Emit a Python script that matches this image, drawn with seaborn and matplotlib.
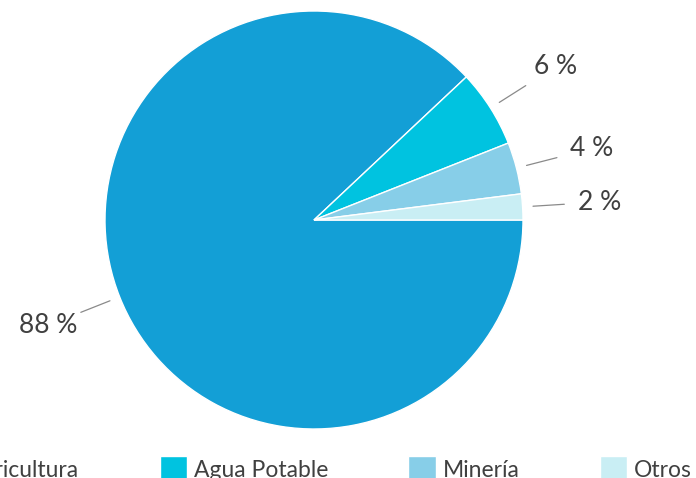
import numpy as np
import seaborn as sns
import matplotlib.pyplot as plt

# datos: uso del agua por sector
sectores = ['Agricultura', 'Agua Potable', 'Minería', 'Otros']
porcentajes = [88, 6, 4, 2]
colores = ['#139FD6', '#00C3E0', '#87CEE8', '#C9EEF4']

sns.set_theme(style='white')
plt.rcParams['font.family'] = ['Lato', 'DejaVu Sans']

fig = plt.figure(figsize=(6.96, 4.78), dpi=100)
ax = fig.add_axes([0, 0, 1, 1])

cx, cy, r = 314, 258, 209
wedges, _ = ax.pie(porcentajes, colors=colores, startangle=0,
                   counterclock=False, center=(cx, cy), radius=r,
                   wedgeprops={'edgecolor': 'white', 'linewidth': 1})

# pie() cambia los limites, los reponemos en pixeles
ax.set_xlim(0, 696)
ax.set_ylim(0, 478)
ax.set_aspect('equal')
ax.axis('off')

# etiquetas con lineas guia
for w, p in zip(wedges, porcentajes):
    ang = np.deg2rad((w.theta1 + w.theta2) / 2)
    c, s = np.cos(ang), np.sin(ang)
    ax.plot([cx + 1.05 * r * c, cx + 1.2 * r * c],
            [cy + 1.05 * r * s, cy + 1.2 * r * s],
            color='#8a8a8a', lw=0.9)
    ax.text(cx + 1.37 * r * c, cy + 1.37 * r * s, f'{p} %',
            ha='center', va='center', fontsize=19, color='#404040')

ax.legend(wedges, sectores, loc='upper center',
          bbox_to_anchor=(313 / 696, 1 - 445 / 478), ncol=4,
          frameon=False, fontsize=16.5, handlelength=1.2, handleheight=1.4,
          handletextpad=0.3, columnspacing=3.5, borderpad=0,
          labelcolor='#404040')

fig.savefig('out.png', dpi=100)
